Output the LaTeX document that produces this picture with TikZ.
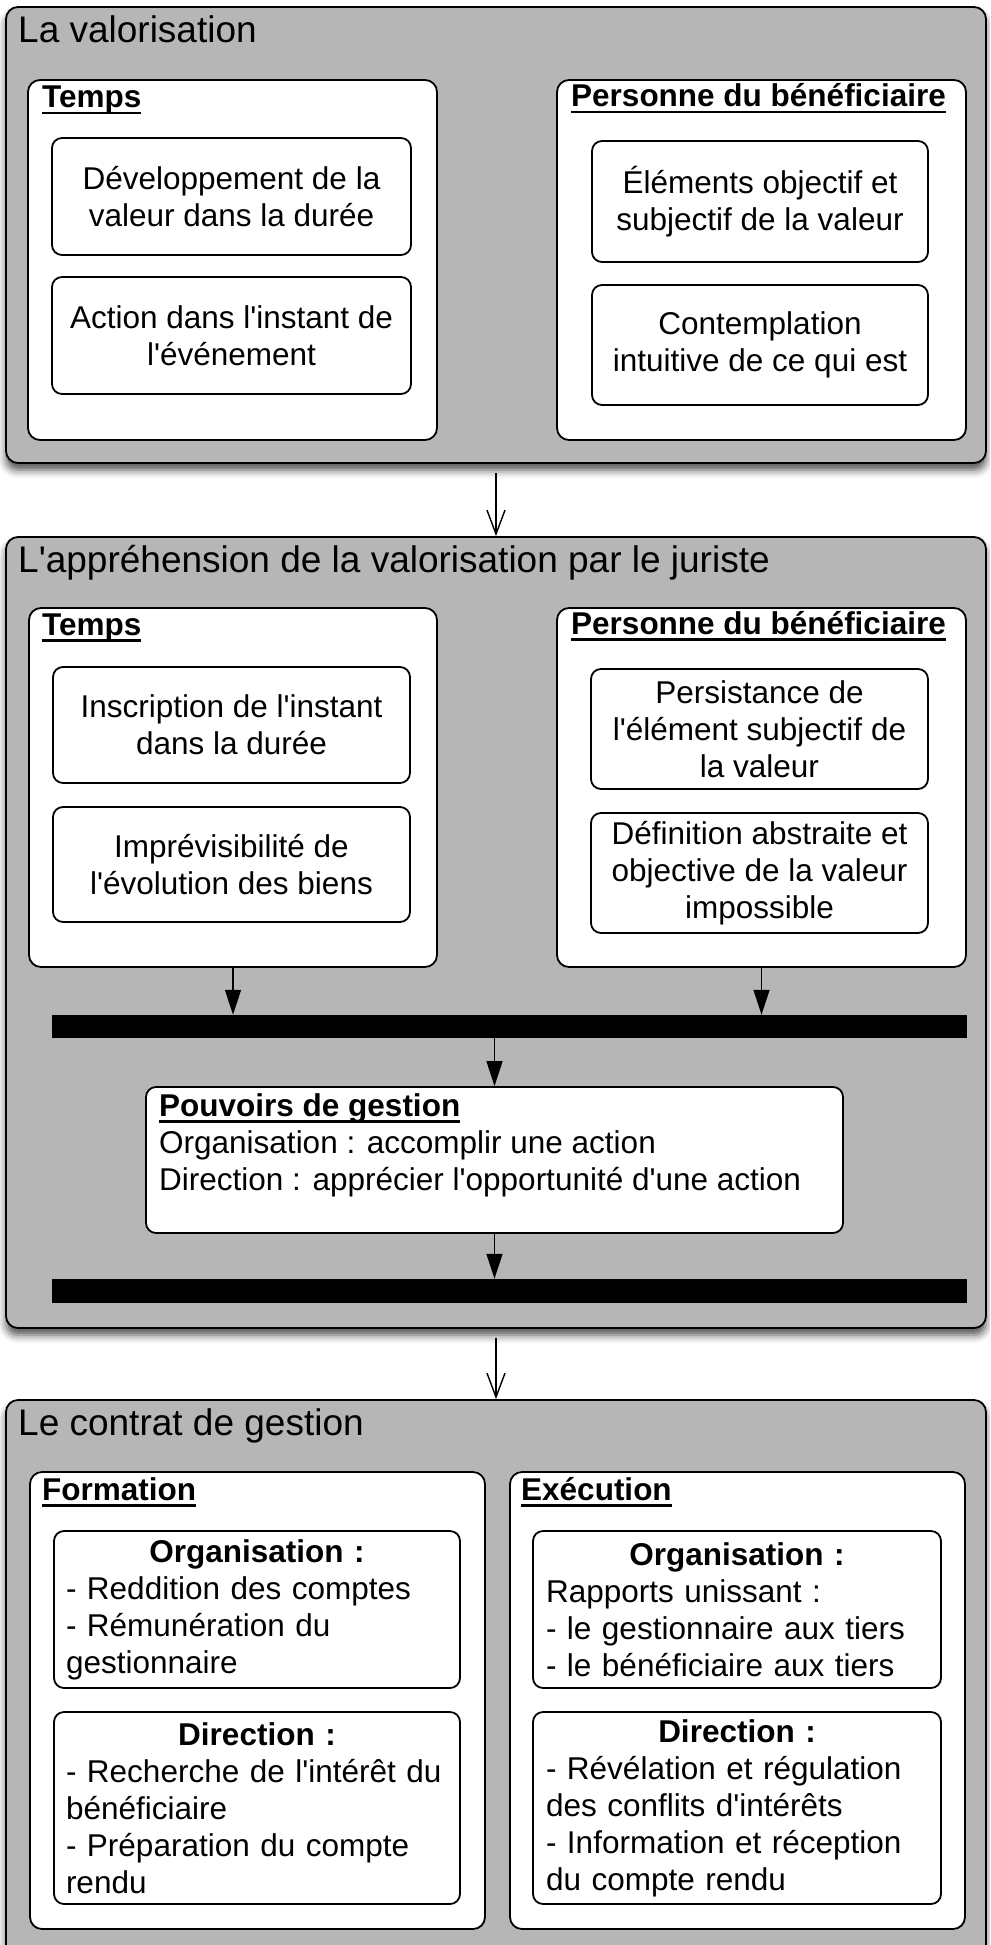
\documentclass[tikz,border=0pt]{standalone}
\usepackage{fontspec}
\setmainfont{Liberation Sans}[Ligatures=TeXOff]
\usepackage{tikz}
\usetikzlibrary{arrows.meta}
\usetikzlibrary{shadows.blur}

\definecolor{panelgray}{RGB}{182,182,182}
\newcommand{\paneltitle}{\fontsize{37}{43}\selectfont}
\newcommand{\ulhead}[1]{\setbox0=\hbox{\bfseries #1}\rlap{\vrule width\wd0 height-4pt depth6.5pt}\box0}

\begin{document}
\begin{tikzpicture}[x=1pt,y=1pt,yscale=-1,font=\fontsize{31.5}{37}\selectfont,
  panel/.style={draw, line width=1.8pt, rounded corners=12pt, fill=panelgray, inner sep=0pt,
    blur shadow={shadow xshift=0pt, shadow yshift=-7pt, shadow blur radius=8pt, shadow opacity=70}},
  group/.style={draw, line width=1.8pt, rounded corners=12pt, fill=white, inner sep=0pt},
  item/.style={draw, line width=1.8pt, rounded corners=10pt, fill=white, inner sep=0pt, align=center},
  listbox/.style={item, align=left, text width=#1},
  bar/.style={fill=black, inner sep=0pt},
  flow/.style={-{Straight Barb[length=24pt,width=18pt]}, line width=1.4pt, shorten <=9pt},
  feed/.style={-{Triangle[length=25pt,width=16pt]}, line width=1.4pt}]
\useasboundingbox (0,0) rectangle (990,1945);
\clip (0,0) rectangle (990,1945);

%Panels
\draw (496,235) node (valo) [panel, minimum width=980pt, minimum height=456pt] {};
\draw (496,932.5) node (appre) [panel, minimum width=980pt, minimum height=791pt] {};
\draw (496,1682) node (contrat) [panel, minimum width=980pt, minimum height=564pt] {};

% Text Node
\draw (18,43) node (valotitle) [anchor=base west, inner sep=0pt, font=\paneltitle] {La valorisation};
% Text Node
\draw (18,572) node (appretitle) [anchor=base west, inner sep=0pt, font=\paneltitle] {L'appréhension de la valorisation par le juriste};
% Text Node
\draw (18,1435) node (contrattitle) [anchor=base west, inner sep=0pt, font=\paneltitle] {Le contrat de gestion};

%La valorisation
\draw (232.5,260) node (tempsA) [group, minimum width=409pt, minimum height=360pt] {};
\draw (761.5,260) node (persA) [group, minimum width=409pt, minimum height=360pt] {};
\draw (42,108) node (tempsAhd) [anchor=base west, inner sep=0pt] {\ulhead{Temps}};
\draw (571,107) node (persAhd) [anchor=base west, inner sep=0pt] {\ulhead{Personne du bénéficiaire}};
\draw (231.5,196.5) node (devA) [item, minimum width=359pt, minimum height=117pt] {Développement de la\\valeur dans la durée};
\draw (231.5,335.5) node (actA) [item, minimum width=359pt, minimum height=117pt] {Action dans l'instant de\\l'événement};
\draw (760,201.5) node (eltA) [item, minimum width=336pt, minimum height=121pt] {Éléments objectif et\\subjectif de la valeur};
\draw (760,345) node (conA) [item, minimum width=336pt, minimum height=120pt] {Contemplation\\intuitive de ce qui est};

%L'appréhension par le juriste
\draw (233,787.5) node (tempsB) [group, minimum width=408pt, minimum height=359pt] {};
\draw (761.5,787.5) node (persB) [group, minimum width=409pt, minimum height=359pt] {};
\draw (42,635) node (tempsBhd) [anchor=base west, inner sep=0pt] {\ulhead{Temps}};
\draw (571,634) node (persBhd) [anchor=base west, inner sep=0pt] {\ulhead{Personne du bénéficiaire}};
\draw (231.5,725) node (insB) [item, minimum width=357pt, minimum height=116pt] {Inscription de l'instant\\dans la durée};
\draw (231.5,864.5) node (impB) [item, minimum width=357pt, minimum height=115pt] {Imprévisibilité de\\l'évolution des biens};
\draw (759.5,729) node (perB) [item, minimum width=337pt, minimum height=120pt] {Persistance de\\l'élément subjectif de\\la valeur};
\draw (759.5,873) node (defB) [item, minimum width=337pt, minimum height=120pt] {Définition abstraite et\\objective de la valeur\\impossible};

%Bars and pouvoirs
\draw (509.5,1026.5) node (barA) [bar, minimum width=915pt, minimum height=23pt] {};
\draw (509.5,1291) node (barB) [bar, minimum width=915pt, minimum height=24pt] {};
\draw (494.5,1160) node (pouv) [item, minimum width=697pt, minimum height=146pt] {};
\draw (159,1093) node (pouvtxt) [anchor=north west, inner sep=0pt, align=left] {\ulhead{Pouvoirs de gestion}\\Organisation : accomplir une action\\Direction : apprécier l'opportunité d'une action};

%Le contrat de gestion
\draw (257.5,1700.5) node (formC) [group, minimum width=455pt, minimum height=457pt] {};
\draw (737.5,1700.5) node (execC) [group, minimum width=455pt, minimum height=457pt] {};
\draw (42,1500) node (formChd) [anchor=base west, inner sep=0pt] {\ulhead{Formation}};
\draw (521,1500) node (execChd) [anchor=base west, inner sep=0pt] {\ulhead{Exécution}};
\draw (257,1609.5) node (orgL) [listbox=382pt, minimum width=406pt, minimum height=157pt] {\noindent\makebox[\hsize]{\bfseries Organisation :}\\- Reddition des comptes\\- Rémunération du\\gestionnaire};
\draw (257,1808) node (dirL) [listbox=382pt, minimum width=406pt, minimum height=192pt] {\noindent\makebox[\hsize]{\bfseries Direction :}\\- Recherche de l'intérêt du\\bénéficiaire\\- Préparation du compte\\rendu};
\draw (737,1609.5) node (orgR) [listbox=382pt, minimum width=408pt, minimum height=157pt] {\noindent\makebox[\hsize]{\bfseries Organisation :}\\Rapports unissant :\\- le gestionnaire aux tiers\\- le bénéficiaire aux tiers};
\draw (737,1808) node (dirR) [listbox=382pt, minimum width=408pt, minimum height=192pt] {\noindent\makebox[\hsize]{\bfseries Direction :}\\- Révélation et régulation\\des conflits d'intérêts\\- Information et réception\\du compte rendu};

%Arrows
\draw [flow] (valo.south) -- (appre.north);
\draw [flow] (appre.south) -- (contrat.north);
\draw [feed] (tempsB.south) -- (tempsB.south |- barA.north);
\draw [feed] (persB.south) -- (persB.south |- barA.north);
\draw [feed] (barA.south -| pouv.north) -- (pouv.north);
\draw [feed] (pouv.south) -- (pouv.south |- barB.north);

\end{tikzpicture}
\end{document}
